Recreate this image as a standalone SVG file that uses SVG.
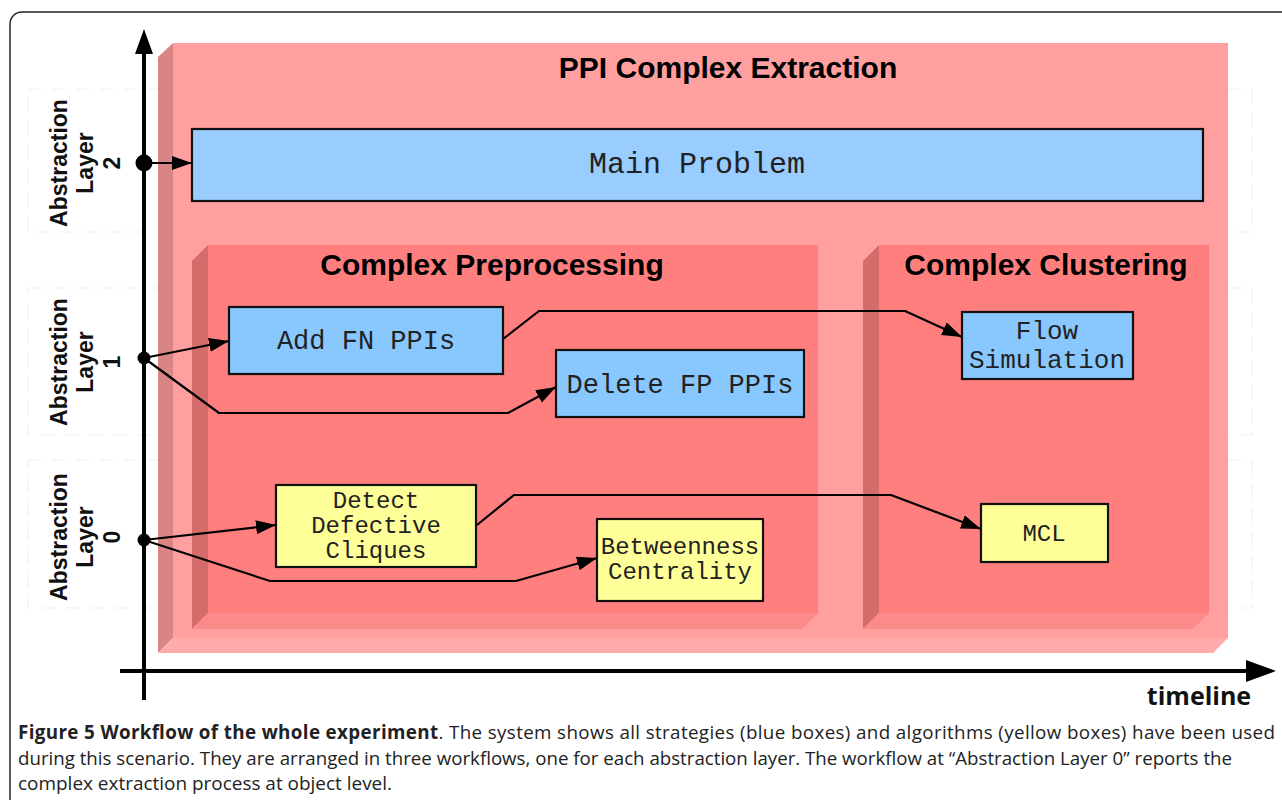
<svg xmlns="http://www.w3.org/2000/svg" width="1282" height="800" viewBox="0 0 1282 800">
<defs>
<style>
.lane{fill:none;stroke:#f0f0f0;stroke-width:1.2;stroke-dasharray:14 10}
.layer{font-family:"Liberation Sans",Arial,sans-serif;font-weight:bold;font-size:23px;fill:#111;text-anchor:middle}
.title{font-family:"Liberation Sans",Arial,sans-serif;font-weight:bold;font-size:30px;fill:#000;text-anchor:middle}
.mono{font-family:"Liberation Mono","Courier New",monospace;font-size:27px;fill:#222;text-anchor:middle}
.mono24{font-family:"Liberation Mono","Courier New",monospace;font-size:24px;fill:#222;text-anchor:middle}
.blue{fill:#88c8ff;stroke:#111;stroke-width:2.2}
.yellow{fill:#ffff99;stroke:#111;stroke-width:2.2}
.conn{fill:none;stroke:#000;stroke-width:2.2;stroke-linejoin:round}
.cap{font-family:"Open Sans","Noto Sans",sans-serif;font-size:18.8px;fill:#222}
</style>
<marker id="ah" viewBox="0 0 20 14" refX="20" refY="7" markerWidth="20" markerHeight="14" markerUnits="userSpaceOnUse" orient="auto">
<path d="M0,0 L20,7 L0,14 Z" fill="#000"/>
</marker>
</defs>
<rect x="0" y="0" width="1282" height="800" fill="#fff"/>
<rect x="10" y="12" width="1290" height="820" rx="12" ry="12" fill="#fff" stroke="#222" stroke-width="1.5"/>

<g id="lanes">
<rect class="lane" x="28" y="89" width="1224" height="143"/>
<rect class="lane" x="28" y="288" width="1224" height="147"/>
<rect class="lane" x="28" y="460" width="1224" height="148"/>
</g>

<g id="ppi-complex-extraction">
<polygon points="158,57 173,43 173,638 158,653" fill="#d98585"/>
<polygon points="158,653 173,638 1228,638 1213,653" fill="#ffabab"/>
<rect x="173" y="43" width="1055" height="595" fill="#ff9f9f"/>
<text class="title" x="728" y="78">PPI Complex Extraction</text>
</g>

<g id="complex-preprocessing">
<polygon points="192,261 208,245 208,613 192,629" fill="#d46c6c"/>
<polygon points="192,629 208,613 818,613 802,629" fill="#fb8a8a"/>
<rect x="208" y="245" width="610" height="368" fill="#ff7f7f"/>
<text class="title" x="492" y="275">Complex Preprocessing</text>
</g>

<g id="complex-clustering">
<polygon points="863,261 879,245 879,613 863,629" fill="#d46c6c"/>
<polygon points="863,629 879,613 1209,613 1193,629" fill="#fb8a8a"/>
<rect x="879" y="245" width="330" height="368" fill="#ff7f7f"/>
<text class="title" x="1046" y="275">Complex Clustering</text>
</g>

<g id="axes">
<line x1="144" y1="48" x2="144" y2="700" stroke="#000" stroke-width="4"/>
<polygon points="144,29 135,54 153,54" fill="#000"/>
<line x1="120" y1="671" x2="1250" y2="671" stroke="#000" stroke-width="4"/>
<polygon points="1276,671 1246,660 1246,682" fill="#000"/>
<text x="1199" y="705" font-family="'Open Sans','Noto Sans',sans-serif" font-weight="bold" font-size="25" text-anchor="middle" fill="#111">timeline</text>
</g>

<g id="layer-labels">
<text class="layer" transform="translate(0,163) rotate(-90)"><tspan x="0" y="67">Abstraction</tspan><tspan x="0" y="93">Layer</tspan><tspan x="0" y="120">2</tspan></text>
<text class="layer" transform="translate(0,362) rotate(-90)"><tspan x="0" y="67">Abstraction</tspan><tspan x="0" y="93">Layer</tspan><tspan x="0" y="120">1</tspan></text>
<text class="layer" transform="translate(0,537) rotate(-90)"><tspan x="0" y="67">Abstraction</tspan><tspan x="0" y="93">Layer</tspan><tspan x="0" y="120">0</tspan></text>
</g>

<g id="main-problem">
<rect x="192" y="129" width="1011" height="72" fill="#99ccff" stroke="#111" stroke-width="2.2"/>
<text class="mono" x="697" y="173" style="font-size:30px">Main Problem</text>
</g>

<g id="add-fn-ppis">
<rect class="blue" x="229" y="307" width="274" height="67"/>
<text class="mono" x="366" y="349">Add FN PPIs</text>
</g>

<g id="delete-fp-ppis">
<rect class="blue" x="556" y="350" width="248" height="67"/>
<text class="mono" x="680" y="393">Delete FP PPIs</text>
</g>

<g id="flow-simulation">
<rect class="blue" x="962" y="312" width="171" height="67"/>
<text class="mono24" x="1047" y="339" style="font-size:26px">Flow</text>
<text class="mono24" x="1047" y="368" style="font-size:26px">Simulation</text>
</g>

<g id="detect-defective-cliques">
<rect class="yellow" x="276" y="485" width="200" height="82"/>
<text class="mono24" x="376" y="508">Detect</text>
<text class="mono24" x="376" y="533">Defective</text>
<text class="mono24" x="376" y="558">Cliques</text>
</g>

<g id="betweenness-centrality">
<rect class="yellow" x="597" y="519" width="166" height="82"/>
<text class="mono24" x="680" y="554">Betweenness</text>
<text class="mono24" x="680" y="579">Centrality</text>
</g>

<g id="mcl">
<rect class="yellow" x="981" y="504" width="127" height="58"/>
<text class="mono24" x="1044" y="541">MCL</text>
</g>

<g id="connectors">
<path class="conn" d="M144,163 L192,163" marker-end="url(#ah)"/>
<path class="conn" d="M144,358 L229,341" marker-end="url(#ah)"/>
<path class="conn" d="M144,358 L219,413 L508,413 L556,387" marker-end="url(#ah)"/>
<path class="conn" d="M503,339 L539,311 L905,311 L962,337" marker-end="url(#ah)"/>
<path class="conn" d="M144,540 L276,525" marker-end="url(#ah)"/>
<path class="conn" d="M144,540 L270,581 L516,581 L597,558" marker-end="url(#ah)"/>
<path class="conn" d="M477,525 L514,495 L891,495 L981,529" marker-end="url(#ah)"/>
<circle cx="144" cy="163" r="8.5" fill="#000"/>
<circle cx="144" cy="358" r="6.5" fill="#000"/>
<circle cx="144" cy="540" r="6.5" fill="#000"/>
</g>

<g id="caption">
<text class="cap" x="18" y="739" textLength="1257" lengthAdjust="spacing"><tspan font-weight="bold">Figure 5 Workflow of the whole experiment</tspan>. The system shows all strategies (blue boxes) and algorithms (yellow boxes) have been used</text>
<text class="cap" x="18" y="765" textLength="1214" lengthAdjust="spacingAndGlyphs">during this scenario. They are arranged in three workflows, one for each abstraction layer. The workflow at “Abstraction Layer 0” reports the</text>
<text class="cap" x="18" y="790" textLength="374" lengthAdjust="spacingAndGlyphs">complex extraction process at object level.</text>
</g>
</svg>
